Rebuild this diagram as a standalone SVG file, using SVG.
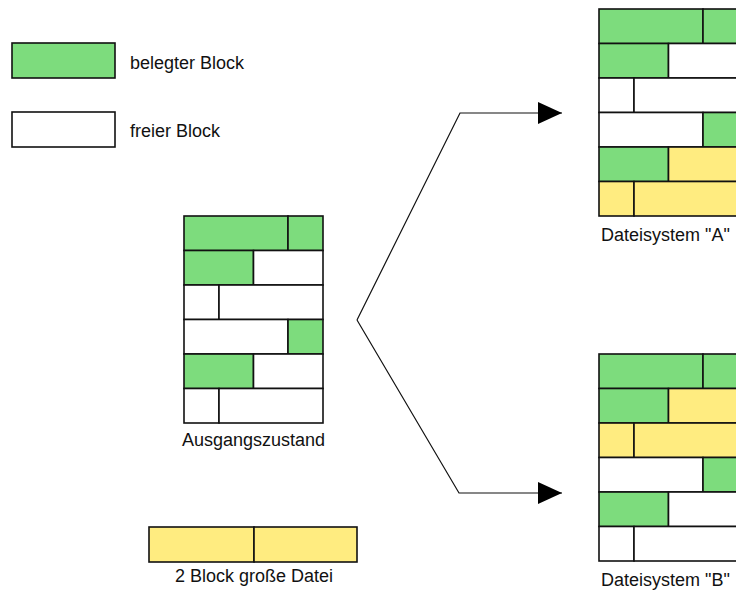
<svg xmlns="http://www.w3.org/2000/svg" width="736" height="591" viewBox="0 0 736 591">
<style>
rect{stroke:#111;stroke-width:1.6}
.g{fill:#7ddc7d}.w{fill:#fff}.y{fill:#ffec80}
text{font-family:"Liberation Sans",Arial,sans-serif;font-size:18px;fill:#111}
.c{fill:none;stroke:#111;stroke-width:1.2}
</style>
<defs>
<marker id="ah" markerUnits="userSpaceOnUse" markerWidth="26" markerHeight="24" refX="24" refY="11" orient="auto"><path d="M0,0L24,11L0,22Z" fill="#000"/></marker>
</defs>
<rect width="736" height="591" fill="#fff" style="stroke:none"/>
<g id="legend-belegt"><rect class="g" x="12" y="43" width="103" height="35"/><text x="130" y="69">belegter Block</text></g>
<g id="legend-frei"><rect class="w" x="12" y="112" width="103" height="35"/><text x="130" y="137">freier Block</text></g>
<g id="ausgang">
<rect class="g" x="184" y="216" width="104" height="34.5"/><rect class="g" x="288" y="216" width="35" height="34.5"/>
<rect class="g" x="184" y="250.5" width="69.5" height="34.5"/><rect class="w" x="253.5" y="250.5" width="69.5" height="34.5"/>
<rect class="w" x="184" y="285" width="35" height="34.5"/><rect class="w" x="219" y="285" width="104" height="34.5"/>
<rect class="w" x="184" y="319.5" width="104" height="34.5"/><rect class="g" x="288" y="319.5" width="35" height="34.5"/>
<rect class="g" x="184" y="354" width="69.5" height="34.5"/><rect class="w" x="253.5" y="354" width="69.5" height="34.5"/>
<rect class="w" x="184" y="388.5" width="35" height="34.5"/><rect class="w" x="219" y="388.5" width="104" height="34.5"/>
<text x="253.5" y="446" text-anchor="middle">Ausgangszustand</text>
</g>
<g id="dateisystemA">
<rect class="g" x="599" y="9" width="104" height="34.5"/><rect class="g" x="703" y="9" width="35" height="34.5"/>
<rect class="g" x="599" y="43.5" width="69.5" height="34.5"/><rect class="w" x="668.5" y="43.5" width="69.5" height="34.5"/>
<rect class="w" x="599" y="78" width="35" height="34.5"/><rect class="w" x="634" y="78" width="104" height="34.5"/>
<rect class="w" x="599" y="112.5" width="104" height="34.5"/><rect class="g" x="703" y="112.5" width="35" height="34.5"/>
<rect class="g" x="599" y="147" width="69.5" height="34.5"/><rect class="y" x="668.5" y="147" width="69.5" height="34.5"/>
<rect class="y" x="599" y="181.5" width="35" height="34.5"/><rect class="y" x="634" y="181.5" width="104" height="34.5"/>
<text x="601" y="241">Dateisystem "A"</text>
</g>
<g id="dateisystemB">
<rect class="g" x="599" y="354" width="104" height="34.5"/><rect class="g" x="703" y="354" width="35" height="34.5"/>
<rect class="g" x="599" y="388.5" width="69.5" height="34.5"/><rect class="y" x="668.5" y="388.5" width="69.5" height="34.5"/>
<rect class="y" x="599" y="423" width="35" height="34.5"/><rect class="y" x="634" y="423" width="104" height="34.5"/>
<rect class="w" x="599" y="457.5" width="104" height="34.5"/><rect class="g" x="703" y="457.5" width="35" height="34.5"/>
<rect class="g" x="599" y="492" width="69.5" height="34.5"/><rect class="w" x="668.5" y="492" width="69.5" height="34.5"/>
<rect class="w" x="599" y="526.5" width="35" height="34.5"/><rect class="w" x="634" y="526.5" width="104" height="34.5"/>
<text x="601" y="586">Dateisystem "B"</text>
</g>
<g id="datei">
<rect class="y" x="149" y="527" width="105" height="35"/><rect class="y" x="254" y="527" width="103" height="35"/>
<text x="254" y="582" text-anchor="middle">2 Block große Datei</text>
</g>
<g id="connectors">
<path class="c" d="M357,320L460,113L562,113" marker-end="url(#ah)"/>
<path class="c" d="M357,320L459,493L562,493" marker-end="url(#ah)"/>
</g>
</svg>
